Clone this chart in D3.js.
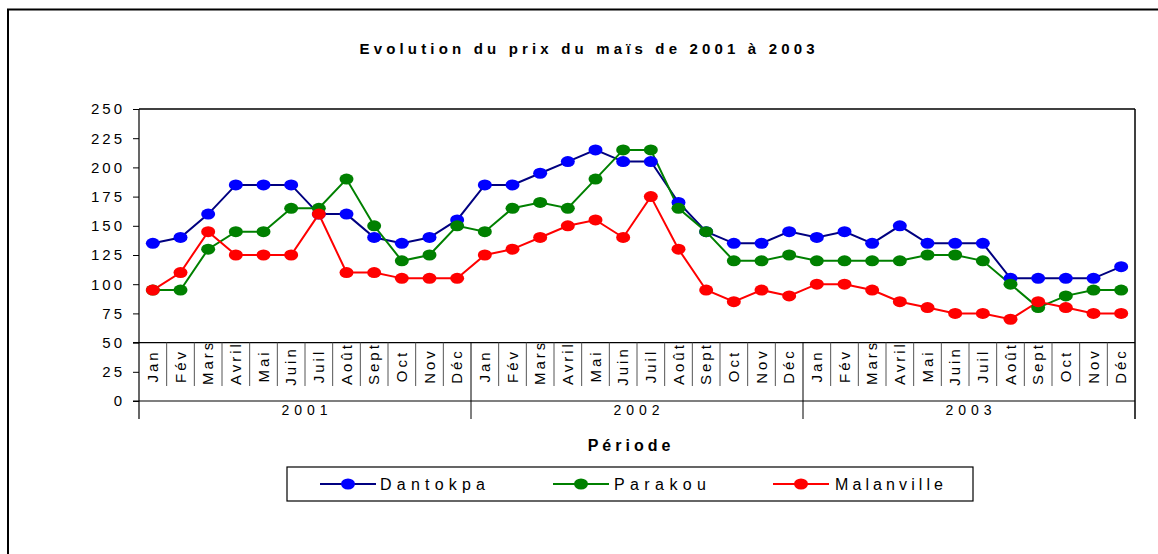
<!DOCTYPE html>
<html><head><meta charset="utf-8">
<script src="https://cdn.jsdelivr.net/npm/d3@7"></script>
<style>
body{margin:0;background:#fff;}
text{font-family:"Liberation Sans",Arial,sans-serif;fill:#000;}
</style></head>
<body>
<svg id="chart" width="1158" height="554"></svg>
<script>
const months = ["Jan","Fév","Mars","Avril","Mai","Juin","Juil","Août","Sept","Oct","Nov","Déc"];
const years = ["2001","2002","2003"];
const dantokpa = [135,140,160,185,185,185,160,160,140,135,140,155,
                  185,185,195,205,215,205,205,170,145,135,135,145,
                  140,145,135,150,135,135,135,105,105,105,105,115];
const parakou = [95,95,130,145,145,165,165,190,150,120,125,150,
                 145,165,170,165,190,215,215,165,145,120,120,125,
                 120,120,120,120,125,125,120,100,80,90,95,95];
const malanville = [95,110,145,125,125,125,160,110,110,105,105,105,
                    125,130,140,150,155,140,175,130,95,85,95,90,
                    100,100,95,85,80,75,75,70,85,80,75,75];
const yTicks = [0,25,50,75,100,125,150,175,200,225,250];
const seriesNames = ["Dantokpa","Parakou","Malanville"];
const title = "Evolution du prix du maïs de 2001 à 2003";
const yTitle = "Valeurs (en FCFA)";
const xTitle = "Période";

const series = [
  {name:seriesNames[0], values:dantokpa, line:"#000080", marker:"#0000FF"},
  {name:seriesNames[1], values:parakou, line:"#008000", marker:"#008000"},
  {name:seriesNames[2], values:malanville, line:"#FF0000", marker:"#FF0000"}
];

const cats = years.flatMap(y => months.map(m => y + "-" + m));
const svg = d3.select("#chart");
const L = 139, R = 1135, T = 109, B = 401, BOT = 419;

const x = d3.scaleBand().domain(cats).range([L, R]);
const xc = c => x(c) + x.bandwidth()/2;
const y = d3.scaleLinear().domain([0,250]).range([B, T]);

// outer border
svg.append("rect").attr("x",8).attr("y",9.5).attr("width",1160).attr("height",560)
  .attr("fill","none").attr("stroke","#000").attr("stroke-width",2);

// title
svg.append("text").attr("x",587).attr("y",54).attr("text-anchor","middle")
  .attr("font-size",15).attr("font-weight","bold")
  .attr("textLength",455).attr("lengthAdjust","spacing").text(title);

// plot frame top/right
svg.append("line").attr("x1",L).attr("x2",R).attr("y1",T).attr("y2",T).attr("stroke","#000").attr("stroke-width",1.5);
svg.append("line").attr("x1",R).attr("x2",R).attr("y1",T).attr("y2",BOT).attr("stroke","#000").attr("stroke-width",1.5);

// y axis
const yAxis = d3.axisLeft(y).tickValues(yTicks).tickSize(6).tickPadding(11);
const ga = svg.append("g").attr("transform",`translate(${L},0)`).call(yAxis);
ga.select(".domain").attr("d",`M0,${T}V${BOT}`).attr("stroke","#000").attr("stroke-width",1.2);
ga.selectAll(".tick line").attr("stroke","#000");
ga.selectAll(".tick text").attr("font-size",15).attr("letter-spacing","3px")
  .attr("font-family","Liberation Sans, Arial, sans-serif").attr("fill","#000")
  .attr("dx","3px");

// horizontal lines at 50 and 0
[50,0].forEach(v => {
  svg.append("line").attr("x1",L-6).attr("x2",R).attr("y1",y(v)).attr("y2",y(v)).attr("stroke","#000").attr("stroke-width",1.2);
});

// month separators and labels
const clip = svg.append("defs").append("clipPath").attr("id","mclip");
clip.append("rect").attr("x",L).attr("y",y(50)+1).attr("width",R-L).attr("height",y(0)-y(50));
const mg = svg.append("g").attr("clip-path","url(#mclip)");
cats.forEach((c,i) => {
  if (i > 0) {
    const isYear = i % 12 === 0;
    svg.append("line").attr("x1",x(c)).attr("x2",x(c))
      .attr("y1",y(50)).attr("y2",isYear ? BOT : 386)
      .attr("stroke",isYear ? "#000" : "#555").attr("stroke-width",1);
  }
  const m = c.split("-")[1];
  const t = mg.append("text").attr("font-size",15).attr("letter-spacing","3px").text(m);
  const len = t.node().getComputedTextLength();
  const cx = xc(c) + 5;
  if (len <= 42) {
    t.attr("text-anchor","middle").attr("transform",`translate(${cx},366) rotate(-90)`);
  } else {
    t.attr("text-anchor","start").attr("transform",`translate(${cx},385) rotate(-90)`);
  }
});

// year labels
years.forEach((yr,i) => {
  const first = x(yr + "-Jan"), last = x(yr + "-Déc") + x.bandwidth();
  svg.append("text").attr("x",(first+last)/2 + 2).attr("y",415).attr("text-anchor","middle")
    .attr("font-size",14).attr("letter-spacing","5px").text(yr);
});

// y title clipped
const clip2 = svg.select("defs").append("clipPath").attr("id","yclip");
clip2.append("rect").attr("x",0).attr("y",169).attr("width",130).attr("height",300);
svg.append("text").attr("clip-path","url(#yclip)")
  .attr("transform","translate(72,337) rotate(-90)")
  .attr("font-size",15).attr("font-weight","bold").attr("letter-spacing","4px").text(yTitle);

// x title
svg.append("text").attr("x",631).attr("y",451).attr("text-anchor","middle")
  .attr("font-size",16).attr("font-weight","bold").attr("letter-spacing","4px").text(xTitle);

// series
const line = d3.line().x((d,i) => xc(cats[i])).y(d => y(d));
series.forEach(s => {
  svg.append("path").attr("d",line(s.values)).attr("fill","none")
    .attr("stroke",s.line).attr("stroke-width",2);
});
series.forEach(s => {
  svg.append("g").selectAll("ellipse").data(s.values).join("ellipse")
    .attr("cx",(d,i) => xc(cats[i])).attr("cy",d => y(d))
    .attr("rx",7).attr("ry",5.5).attr("fill",s.marker);
});

// legend
svg.append("rect").attr("x",287).attr("y",467).attr("width",686).attr("height",34)
  .attr("fill","#fff").attr("stroke","#000").attr("stroke-width",1.2);
const legPos = [{lx:320, tx:380, tl:105},{lx:553, tx:614, tl:92},{lx:773, tx:835, tl:108}];
series.forEach((s,i) => {
  const p = legPos[i];
  svg.append("line").attr("x1",p.lx).attr("x2",p.lx+56).attr("y1",484).attr("y2",484)
    .attr("stroke",s.line).attr("stroke-width",2);
  svg.append("ellipse").attr("cx",p.lx+28).attr("cy",484).attr("rx",7).attr("ry",5.5).attr("fill",s.marker);
  svg.append("text").attr("x",p.tx).attr("y",490).attr("font-size",16)
    .attr("textLength",p.tl).attr("lengthAdjust","spacing").text(s.name);
});
</script>
</body></html>
